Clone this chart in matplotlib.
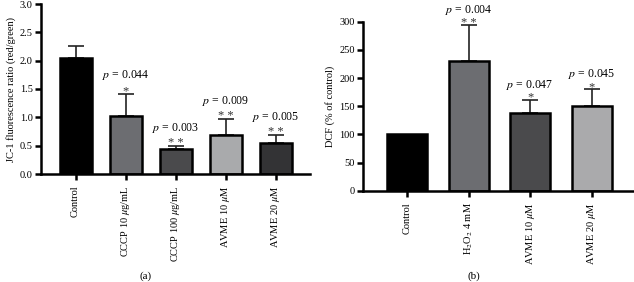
import matplotlib
matplotlib.use("Agg")
import matplotlib.pyplot as plt
import numpy as np

plt.rcParams['font.family'] = ['Liberation Serif', 'DejaVu Serif']
plt.rcParams['mathtext.fontset'] = 'stix'

# Panel (a)
cats_a = ["Control", "CCCP 10 $\\mu$g/mL", "CCCP 100 $\\mu$g/mL", "AVME 10 $\\mu$M", "AVME 20 $\\mu$M"]
vals_a = [2.04, 1.02, 0.44, 0.69, 0.55]
errs_a = [0.22, 0.40, 0.06, 0.28, 0.14]
cols_a = ["#000000", "#6c6d71", "#4a4a4c", "#a9aaac", "#333335"]
pvals_a = [None, "0.044", "0.003", "0.009", "0.005"]
stars_a = [None, "*", "**", "**", "**"]

# Panel (b)
cats_b = ["Control", "H$_2$O$_2$ 4 mM", "AVME 10 $\\mu$M", "AVME 20 $\\mu$M"]
vals_b = [100, 231, 138, 151]
errs_b = [0, 63, 23, 29]
cols_b = ["#000000", "#6c6d71", "#4a4a4c", "#aaaaac"]
pvals_b = [None, "0.004", "0.047", "0.045"]
stars_b = [None, "**", "*", "*"]

fig = plt.figure(figsize=(6.34, 2.82), dpi=100)
axa = fig.add_axes([41/634, 108/282, 269/634, 170/282])
axb = fig.add_axes([363/634, 91.3/282, 270/634, 169/282])

def draw(ax, cats, vals, errs, cols, pvals, stars, ylim, yticks, ylabel, poff, soff, xlim, width, ticklabels):
    x = np.arange(len(cats))
    ax.bar(x, vals, width=width, color=cols, edgecolor="black", linewidth=1.8, zorder=2)
    for xi, v, e in zip(x, vals, errs):
        if e > 0:
            ax.errorbar(xi, v, yerr=[[0], [e]], fmt='none', ecolor='#222222',
                        elinewidth=1.2, capsize=5.5, capthick=1.2, zorder=1)
    for xi, v, e, p, s in zip(x, vals, errs, pvals, stars):
        if p is None:
            continue
        top = v + e
        ax.text(xi, top + soff, " ".join(s), ha='center', va='center', fontsize=9, color='#333333', clip_on=False)
        ax.text(xi, top + poff, "$p$ = " + p, ha='center', va='center', fontsize=8.5, clip_on=False)
    ax.set_xlim(*xlim)
    ax.set_ylim(*ylim)
    ax.set_yticks(yticks)
    ax.set_yticklabels(ticklabels, fontsize=7.5)
    ax.set_xticks(x)
    ax.set_xticklabels(cats, rotation=90, fontsize=7.5)
    ax.set_ylabel(ylabel, fontsize=7.5, labelpad=3)
    for sp in ['top', 'right']:
        ax.spines[sp].set_visible(False)
    for sp in ['left', 'bottom']:
        ax.spines[sp].set_linewidth(1.8)
    ax.tick_params(axis='y', width=1.8, length=4, pad=2)
    ax.tick_params(axis='x', width=1.8, length=4.5, pad=4)

draw(axa, cats_a, vals_a, errs_a, cols_a, pvals_a, stars_a, (0, 3.0),
     [0, 0.5, 1.0, 1.5, 2.0, 2.5, 3.0], "JC-1 fluorescence ratio (red/green)",
     0.32, 0.045, (-0.69, 4.68), 0.64, ["0.0", "0.5", "1.0", "1.5", "2.0", "2.5", "3.0"])
draw(axb, cats_b, vals_b, errs_b, cols_b, pvals_b, stars_b, (0, 300),
     [0, 50, 100, 150, 200, 250, 300], "DCF (% of control)",
     27, 4, (-0.715, 3.67), 0.65, ["0", "50", "100", "150", "200", "250", "300"])

fig.text(146/634, 1 - 276/282, "(a)", ha='center', va='center', fontsize=8)
fig.text(474/634, 1 - 276/282, "(b)", ha='center', va='center', fontsize=8)

fig.savefig("out.png", dpi=100)
